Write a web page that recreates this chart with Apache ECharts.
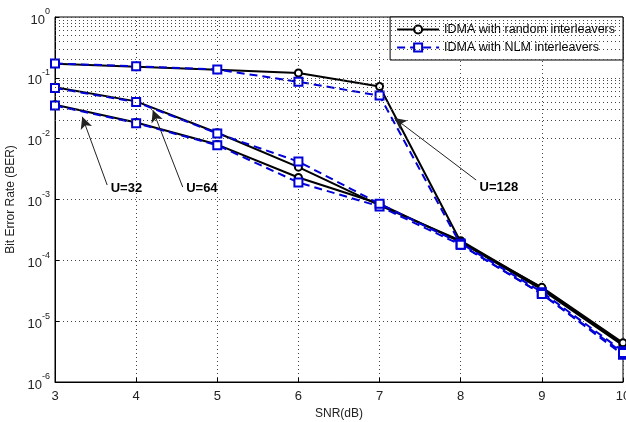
<!DOCTYPE html>
<html>
<head>
<meta charset="utf-8">
<script src="https://cdn.jsdelivr.net/npm/echarts@6/dist/echarts.min.js"></script>
<style>html,body{margin:0;padding:0;background:#fff}#c{width:626px;height:422px}</style>
</head>
<body>
<div id="c"></div>
<script>
const snr = [3, 4, 5, 6, 7, 8, 9, 10];
const randomU32  = [0.036, 0.0185, 0.008, 0.0023, 0.00085, 0.0002, 0.000033, 0.000004];
const randomU64  = [0.07, 0.041, 0.0125, 0.0034, 0.0008, 0.00021, 0.000035, 0.0000042];
const randomU128 = [0.17, 0.152, 0.136, 0.12, 0.072, 0.0002, 0.000036, 0.0000044];
const nlmU32  = [0.035, 0.018, 0.0078, 0.0019, 0.00077, 0.00018, 0.000028, 0.0000028];
const nlmU64  = [0.068, 0.04, 0.0122, 0.0042, 0.00085, 0.00019, 0.00003, 0.0000032];
const nlmU128 = [0.172, 0.155, 0.137, 0.086, 0.051, 0.00018, 0.000028, 0.000003];
const yTickExponents = [0, -1, -2, -3, -4, -5, -6];
const annotations = [
  {text: 'U=32',  from: [3.643, 0.00173], to: [3.336, 0.0229], label: [3.88, 0.0015]},
  {text: 'U=64',  from: [4.574, 0.0016],  to: [4.205, 0.0295], label: [4.81, 0.0015]},
  {text: 'U=128', from: [8.19, 0.00209],  to: [7.182, 0.0218], label: [8.47, 0.0016]}
];

const FONT = 'Liberation Sans, Arial, sans-serif';
const black = '#000000';
const blue = '#0000d8';

function pairs(vals) { return snr.map((x, i) => [x, vals[i]]); }

const minorVals = [];
for (let n = -6; n < 0; n++) for (let k = 2; k <= 9; k++) minorVals.push(k * Math.pow(10, n));

function mkSeries(name, vals, isNlm, extra) {
  const s = {
    name: name,
    type: 'line',
    data: pairs(vals),
    symbol: isNlm ? 'emptyRect' : 'emptyCircle',
    symbolSize: isNlm ? 8 : 7,
    showSymbol: true,
    itemStyle: {color: isNlm ? blue : black, borderWidth: 2, borderColor: isNlm ? blue : black},
    lineStyle: {color: isNlm ? blue : black, width: 2, type: isNlm ? [8, 5] : 'solid'},
    z: isNlm ? 4 : 3,
    animation: false
  };
  return Object.assign(s, extra || {});
}

const RN = 'IDMA with random interleavers';
const NN = 'IDMA with NLM interleavers';

const series = [
  mkSeries(RN, randomU32, false, {
    markLine: {
      silent: true, symbol: 'none', animation: false,
      label: {show: false},
      lineStyle: {color: '#444', type: [1, 3], width: 1},
      data: minorVals.map(v => ({yAxis: v}))
    }
  }),
  mkSeries(RN, randomU64, false),
  mkSeries(RN, randomU128, false, {
    markLine: {
      silent: true, symbol: ['none', 'arrow'], symbolSize: [9, 12], animation: false,
      label: {show: false},
      lineStyle: {color: '#222', type: 'solid', width: 1},
      data: annotations.map(a => [{coord: a.from}, {coord: a.to}])
    },
    markPoint: {
      silent: true, animation: false, symbol: 'circle', symbolSize: 1,
      itemStyle: {color: 'rgba(0,0,0,0)'},
      label: {show: true, position: 'inside', color: '#000', fontWeight: 'bold', fontSize: 13, fontFamily: FONT,
              formatter: p => p.name},
      data: annotations.map(a => ({name: a.text, coord: a.label}))
    }
  }),
  mkSeries(NN, nlmU32, true),
  mkSeries(NN, nlmU64, true),
  mkSeries(NN, nlmU128, true)
];

const chart = echarts.init(document.getElementById('c'));
chart.setOption({
  backgroundColor: '#fff',
  animation: false,
  grid: {left: 55, right: 3, top: 17, bottom: 40, show: true, borderColor: '#000', borderWidth: 1,
         containLabel: false, outerBoundsMode: 'none'},
  legend: {
    data: [RN, NN],
    orient: 'vertical', right: 3, top: 17,
    backgroundColor: '#fff', borderColor: '#000', borderWidth: 1,
    padding: [6, 8, 6, 6], itemGap: 5, itemWidth: 42, itemHeight: 10,
    textStyle: {fontFamily: FONT, fontSize: 12.5, color: '#000'}
  },
  xAxis: {
    type: 'value', min: 3, max: 10, interval: 1,
    name: 'SNR(dB)', nameLocation: 'middle', nameGap: 26,
    nameTextStyle: {fontFamily: FONT, fontSize: 12, color: '#222'},
    axisLine: {show: true, onZero: false, lineStyle: {color: '#000'}},
    axisTick: {show: true, inside: true, length: 4, lineStyle: {color: '#000'}},
    axisLabel: {fontFamily: FONT, fontSize: 13, color: '#222', margin: 8},
    splitLine: {show: true, lineStyle: {color: '#444', type: [1, 3]}}
  },
  yAxis: {
    type: 'log', logBase: 10, min: 1e-6, max: 1,
    name: 'Bit Error Rate (BER)', nameLocation: 'middle', nameGap: 38,
    nameTextStyle: {fontFamily: FONT, fontSize: 12, color: '#222'},
    axisLine: {show: true, onZero: false, lineStyle: {color: '#000'}},
    axisTick: {show: true, inside: true, length: 4, lineStyle: {color: '#000'}},
    axisLabel: {
      fontFamily: FONT, fontSize: 13, color: '#222', margin: 5,
      formatter: function (v) {
        const e = Math.round(Math.log10(v));
        if (yTickExponents.indexOf(e) < 0) return '';
        return '{b|10}{s|' + e + '}';
      },
      rich: {
        b: {fontFamily: FONT, fontSize: 13, color: '#222', padding: [6, 0, 0, 0]},
        s: {fontFamily: FONT, fontSize: 9, color: '#222', verticalAlign: 'top', padding: [0, 0, 8, 0]}
      }
    },
    splitLine: {show: true, lineStyle: {color: '#444', type: [1, 3]}}
  },
  series: series
});
</script>
</body>
</html>
